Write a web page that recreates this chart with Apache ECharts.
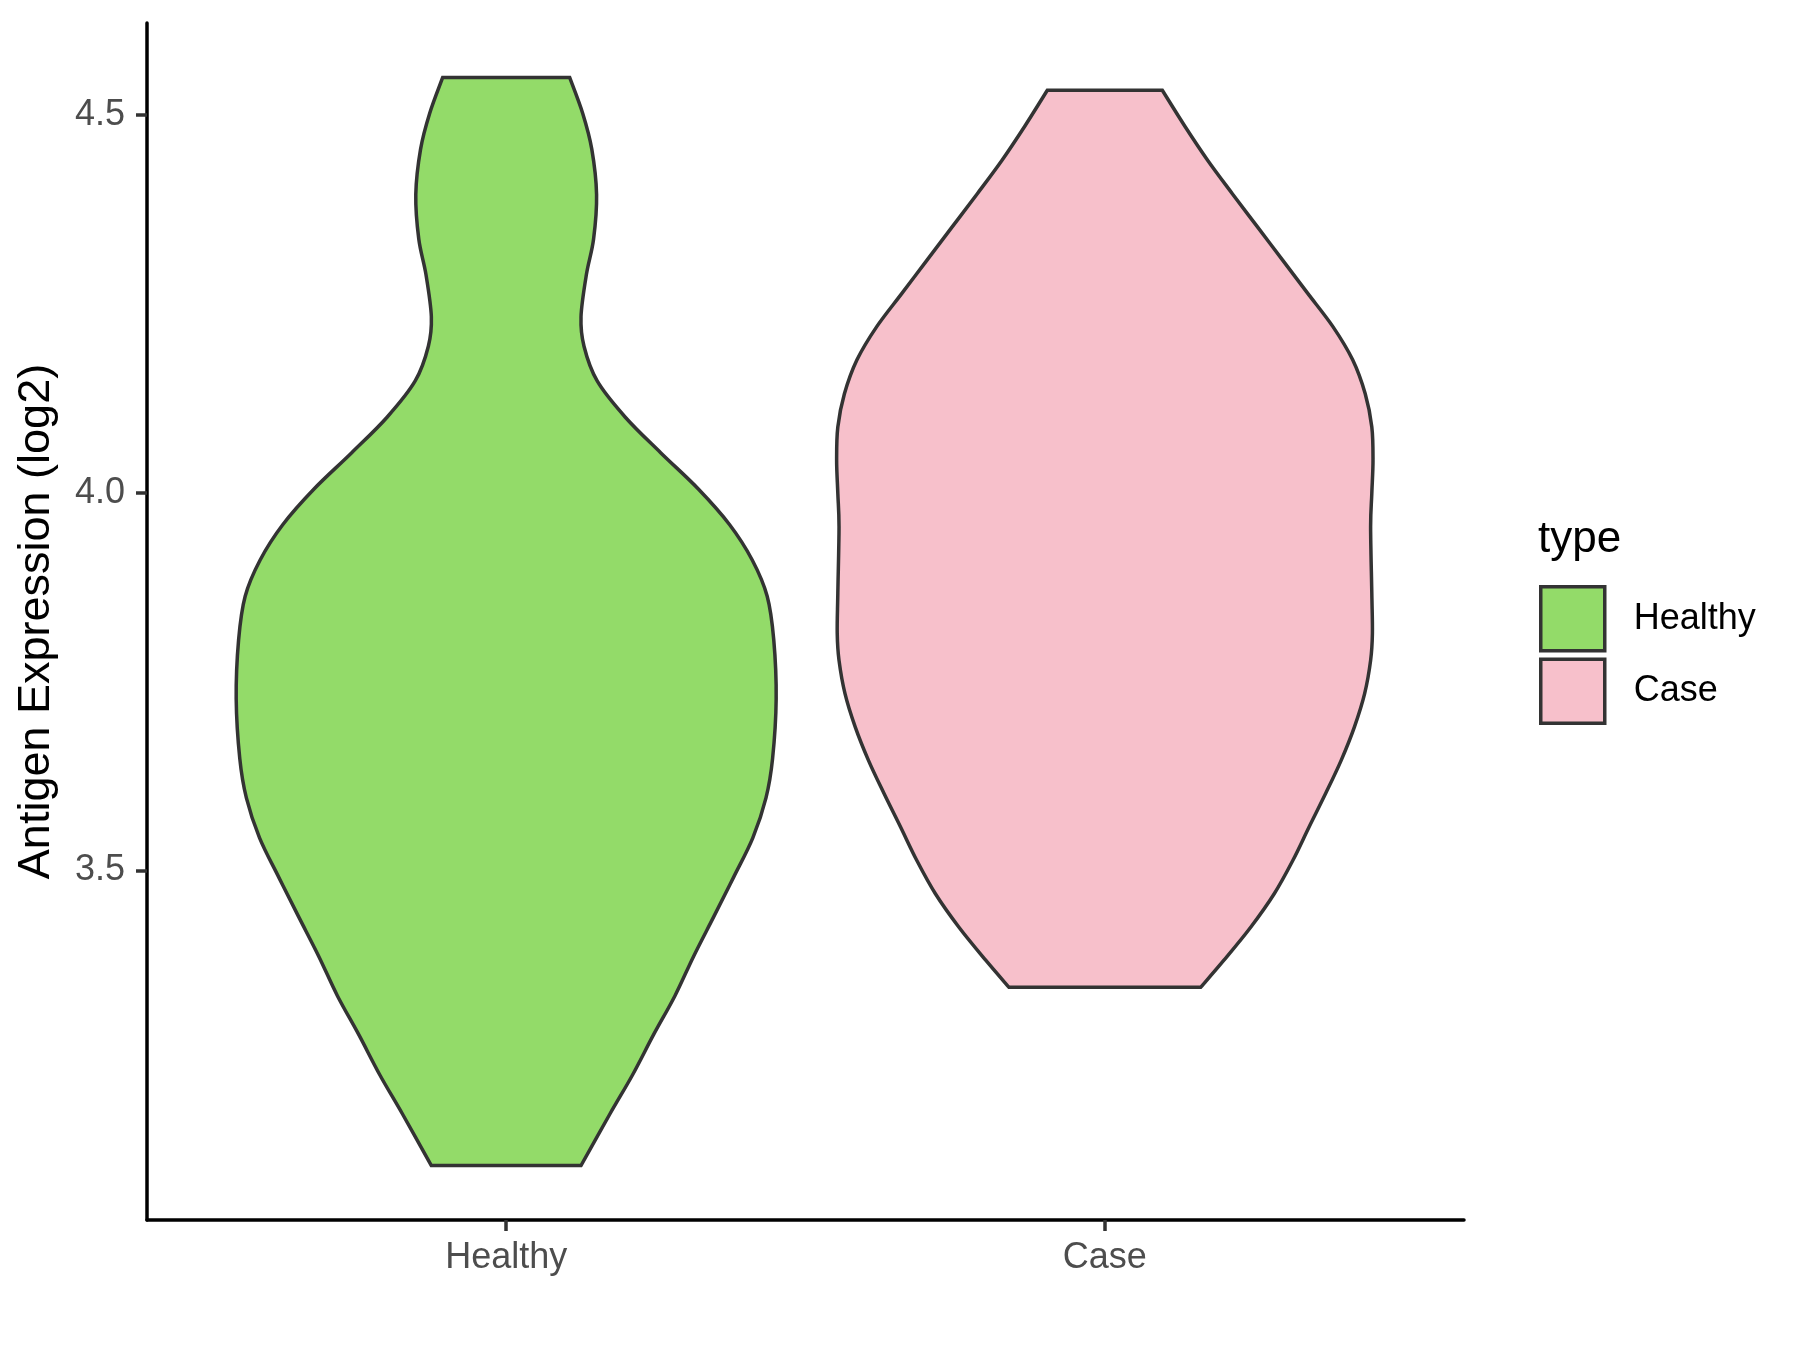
<!DOCTYPE html>
<html>
<head>
<meta charset="utf-8">
<script src="https://cdn.jsdelivr.net/npm/echarts@6/dist/echarts.min.js"></script>
<style>
  html, body { margin: 0; padding: 0; background: #fff; }
  #chart { width: 1800px; height: 1350px; }
</style>
</head>
<body>
<div id="chart"></div>
<script>
// groups on the x axis
const categories = ['Healthy', 'Case']
const fillColors = ['#93DB69', '#F7C0CB']
const yTicks = [3.5, 4.0, 4.5]

// violin outlines: expression value (bottom -> top)
// and half width in x-axis units (1 unit = distance between groups)
const healthyValue = [3.109, 3.177, 3.229, 3.282, 3.334, 3.386, 3.439, 3.491, 3.543, 3.596,
  3.648, 3.727, 3.805, 3.863, 3.911, 3.958, 4.005, 4.053, 4.100, 4.148,
  4.194, 4.233, 4.289, 4.336, 4.395, 4.455, 4.502, 4.550]
const healthyHalfWidth = [0.125, 0.173, 0.211, 0.246, 0.282, 0.313, 0.347, 0.380, 0.412, 0.434,
  0.445, 0.451, 0.447, 0.436, 0.411, 0.373, 0.321, 0.258, 0.199, 0.152,
  0.130, 0.125, 0.134, 0.146, 0.151, 0.143, 0.128, 0.106]

const caseValue = [3.345, 3.381, 3.425, 3.469, 3.513, 3.557, 3.602, 3.646, 3.690, 3.734,
  3.778, 3.814, 3.867, 3.955, 3.999, 4.043, 4.087, 4.131, 4.176, 4.220,
  4.264, 4.308, 4.352, 4.396, 4.440, 4.485, 4.533]
const caseHalfWidth = [0.160, 0.199, 0.244, 0.283, 0.314, 0.341, 0.369, 0.395, 0.417, 0.434,
  0.444, 0.447, 0.446, 0.444, 0.446, 0.448, 0.446, 0.435, 0.414, 0.381,
  0.339, 0.297, 0.255, 0.213, 0.172, 0.134, 0.096]

const violins = [
  { values: healthyValue, widths: healthyHalfWidth },
  { values: caseValue, widths: caseHalfWidth }
]

// ggplot style expansion: 5% of data range on y, 0.6 units on discrete x
const allValues = healthyValue.concat(caseValue)
const dataMin = Math.min(...allValues)
const dataMax = Math.max(...allValues)
const yPad = (dataMax - dataMin) * 0.05

const fontFamily = '"Liberation Sans", Arial, sans-serif'

const chart = echarts.init(document.getElementById('chart'))

// smooth curve through the outline points (catmull-rom as cubic beziers)
const curveThrough = (pts) => {
  let d = ''
  for (let i = 0; i < pts.length - 1; i++) {
    const p0 = pts[Math.max(i - 1, 0)]
    const p1 = pts[i]
    const p2 = pts[i + 1]
    const p3 = pts[Math.min(i + 2, pts.length - 1)]
    const c1x = p1[0] + (p2[0] - p0[0]) / 6
    const c1y = p1[1] + (p2[1] - p0[1]) / 6
    const c2x = p2[0] - (p3[0] - p1[0]) / 6
    const c2y = p2[1] - (p3[1] - p1[1]) / 6
    d += ' C' + c1x + ' ' + c1y + ' ' + c2x + ' ' + c2y + ' ' + p2[0] + ' ' + p2[1]
  }
  return d
}

const renderViolin = (params, api) => {
  const v = violins[params.seriesIndex]
  const x = api.value(0)
  const left = []
  const right = []
  for (let i = 0; i < v.values.length; i++) {
    left.push(api.coord([x - v.widths[i], v.values[i]]))
  }
  for (let i = v.values.length - 1; i >= 0; i--) {
    right.push(api.coord([x + v.widths[i], v.values[i]]))
  }
  const pathData = 'M' + left[0][0] + ' ' + left[0][1] +
    curveThrough(left) +
    ' L' + right[0][0] + ' ' + right[0][1] +
    curveThrough(right) + ' Z'
  return {
    type: 'path',
    shape: { pathData: pathData },
    style: {
      fill: fillColors[params.seriesIndex],
      stroke: '#333333',
      lineWidth: 3.5,
      lineJoin: 'miter'
    }
  }
}

const option = {
  animation: false,
  backgroundColor: '#ffffff',
  textStyle: { fontFamily: fontFamily },
  grid: {
    left: 147,
    right: 336,
    top: 23,
    bottom: 130
  },
  title: {
    text: 'type',
    left: 1533,
    top: 513,
    textStyle: {
      fontFamily: fontFamily,
      fontSize: 44,
      fontWeight: 'normal',
      color: '#000'
    }
  },
  legend: {
    orient: 'vertical',
    left: 1534,
    top: 580,
    itemWidth: 64,
    itemHeight: 64,
    itemGap: 5,
    icon: 'rect',
    textStyle: {
      fontFamily: fontFamily,
      fontSize: 36,
      color: '#000',
      padding: [0, 0, 0, 24]
    },
    data: categories.map((name, i) => ({
      name: name,
      itemStyle: {
        color: fillColors[i],
        borderColor: '#333333',
        borderWidth: 3.5
      }
    }))
  },
  xAxis: {
    type: 'value',
    min: 0.4,
    max: 2.6,
    splitLine: { show: false },
    axisLine: {
      onZero: false,
      lineStyle: { color: '#000', width: 3.5 }
    },
    axisTick: {
      customValues: [1, 2],
      length: 11,
      lineStyle: { color: '#333333', width: 3.5 }
    },
    axisLabel: {
      customValues: [1, 2],
      formatter: (val) => categories[Math.round(val) - 1],
      fontFamily: fontFamily,
      fontSize: 36,
      color: '#4D4D4D',
      margin: 20
    }
  },
  yAxis: {
    type: 'value',
    min: dataMin - yPad,
    max: dataMax + yPad,
    name: 'Antigen Expression (log2)',
    nameLocation: 'middle',
    nameGap: 88,
    nameTextStyle: {
      fontFamily: fontFamily,
      fontSize: 45,
      color: '#000'
    },
    splitLine: { show: false },
    axisLine: {
      show: true,
      onZero: false,
      lineStyle: { color: '#000', width: 3.5 }
    },
    axisTick: {
      show: true,
      customValues: yTicks,
      length: 11,
      lineStyle: { color: '#333333', width: 3.5 }
    },
    axisLabel: {
      customValues: yTicks,
      formatter: (val) => val.toFixed(1),
      fontFamily: fontFamily,
      fontSize: 36,
      color: '#4D4D4D',
      margin: 22
    }
  },
  series: categories.map((name, i) => ({
    name: name,
    type: 'custom',
    coordinateSystem: 'cartesian2d',
    renderItem: renderViolin,
    itemStyle: { color: fillColors[i], borderColor: '#333333', borderWidth: 3.5 },
    data: [[i + 1]]
  }))
}

chart.setOption(option)
</script>
</body>
</html>
